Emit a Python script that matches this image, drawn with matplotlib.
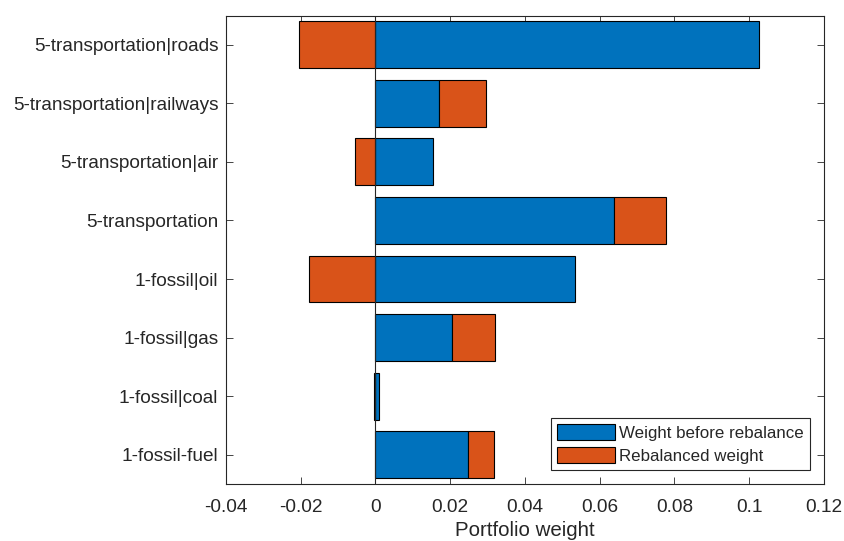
import numpy as np
import matplotlib
matplotlib.use("Agg")
import matplotlib.pyplot as plt

plt.rcParams['font.family'] = ['Liberation Sans', 'DejaVu Sans']

categories = ["1-fossil-fuel", "1-fossil|coal", "1-fossil|gas", "1-fossil|oil",
              "5-transportation", "5-transportation|air",
              "5-transportation|railways", "5-transportation|roads"]
weight_before = [0.0248, 0.0009, 0.0204, 0.0533, 0.0637, 0.01545, 0.0171, 0.1026]
rebalanced = [0.0069, -0.00045, 0.0116, -0.0179, 0.0139, -0.0055, 0.0124, -0.0205]
xticks = [-0.04, -0.02, 0, 0.02, 0.04, 0.06, 0.08, 0.1, 0.12]
xticklabels = ["-0.04", "-0.02", "0", "0.02", "0.04", "0.06", "0.08", "0.1", "0.12"]

blue = "#0072BD"
orange = "#D95319"
axis_col = "#262626"

fig = plt.figure(figsize=(8.45, 5.41), dpi=100)
ax = fig.add_axes([226 / 845, 1 - 484 / 541, (824 - 226) / 845, (484 - 15.5) / 541])

y = np.arange(1, len(categories) + 1)
before = np.array(weight_before)
reb = np.array(rebalanced)
# Positive changes stack on top of the base weight, negative ones grow left from zero
reb_left = np.where(reb >= 0, np.maximum(before, 0), 0.0)

ax.barh(y, before, height=0.8, color=blue, edgecolor="black", linewidth=0.8,
        label="Weight before rebalance", zorder=2)
ax.barh(y, reb, left=reb_left, height=0.8, color=orange, edgecolor="black",
        linewidth=0.8, label="Rebalanced weight", zorder=2)
ax.axvline(0, color=axis_col, linewidth=0.8, zorder=3)

ax.set_xlim(-0.04, 0.12)
ax.set_ylim(0.5, 8.5)
ax.set_xticks(xticks)
ax.set_xticklabels(xticklabels)
ax.set_yticks(y)
ax.set_yticklabels(categories)
ax.tick_params(axis="both", direction="in", length=5, width=0.6, colors=axis_col,
               labelsize=13.7, top=True, right=True)
ax.tick_params(axis="x", pad=10.5)
ax.tick_params(axis="y", pad=5.5)
for s in ax.spines.values():
    s.set_color(axis_col)
    s.set_linewidth(0.8)

ax.set_xlabel("Portfolio weight", fontsize=14.8, color=axis_col, labelpad=4)

leg = ax.legend(loc="lower right", fontsize=12.2, frameon=True, fancybox=False,
                edgecolor=axis_col, framealpha=1, borderaxespad=0.83,
                handlelength=3.37, handleheight=1.05, handletextpad=0.28,
                borderpad=0.35, labelspacing=0.4)
leg.get_frame().set_linewidth(0.8)
for t in leg.get_texts():
    t.set_color(axis_col)

fig.savefig("out.png", dpi=100)
